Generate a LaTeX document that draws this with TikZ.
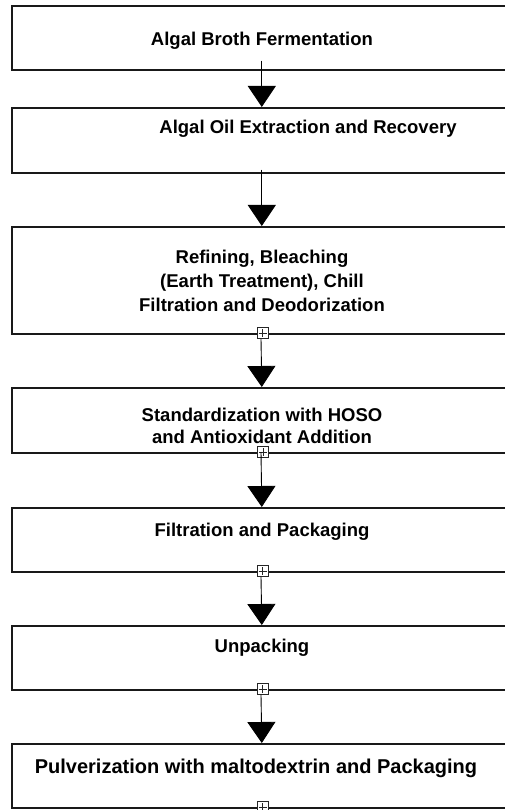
\documentclass[tikz,border=0pt]{standalone}
\usepackage{fontspec}
\setmainfont{Liberation Sans}
\usetikzlibrary{arrows.meta}
\begin{document}
\begin{tikzpicture}[x=1pt,y=-1pt,
  box/.style={draw=black!90, line width=1.6pt, minimum width=502pt, inner sep=0pt, anchor=north west},
  txt/.style={font=\fontsize{18.5}{24}\selectfont\bfseries, align=center, inner sep=0pt, anchor=base},
  conn/.style={draw=black, line width=0.9pt, -{Triangle[width=28pt,length=21pt]}},
  sq/.style={draw=black!85, fill=white, line width=0.6pt, minimum size=11pt, inner sep=0pt,
    path picture={\draw[line width=0.6pt] ([yshift=4pt]path picture bounding box.center) -- ([yshift=-4pt]path picture bounding box.center);
      \draw[line width=0.6pt] ([xshift=-4pt]path picture bounding box.center) -- ([xshift=4pt]path picture bounding box.center);}}
]
\useasboundingbox (0,0) rectangle (504,810);
\fill[white] (0,0) rectangle (504,810);
% boxes
\node[box, minimum height=64pt]  (b1) at (11,5) {};
\node[box, minimum height=65pt]  (b2) at (11,107) {};
\node[box, minimum height=107pt] (b3) at (11,226) {};
\node[box, minimum height=65pt]  (b4) at (11,387) {};
\node[box, minimum height=64pt]  (b5) at (11,507) {};
\node[box, minimum height=64pt]  (b6) at (11,625) {};
\node[box, minimum height=64pt]  (b7) at (11,743) {};
% texts
\node[txt] (t1) at (262,46) {Algal Broth Fermentation};
\node[txt] (t2) at (308,134) {Algal Oil Extraction and Recovery};
\node[txt] (t3) at (262,311) {Refining, Bleaching\\(Earth Treatment), Chill\\Filtration and Deodorization};
\node[txt, font=\fontsize{18.5}{22}\selectfont\bfseries] (t4) at (262,443) {Standardization with HOSO\\and Antioxidant Addition};
\node[txt] (t5) at (262,536) {Filtration and Packaging};
\node[txt] (t6) at (262,652) {Unpacking};
\node[txt, font=\fontsize{20}{24}\selectfont\bfseries] (t7) at (256,773) {Pulverization with maltodextrin and Packaging};
% small squares
\node[sq] (s3) at (262.5,333) {};
\node[sq] (s4) at (263,452) {};
\node[sq] (s5) at (262.5,571) {};
\node[sq] (s6) at (262.5,689) {};
\node[sq] (s7) at (262.5,807) {};
% connectors
\draw[conn] ([xshift=-1pt,yshift=10pt]b1.south) -- ([xshift=-1pt]b2.north);
\draw[conn] ([xshift=-1pt,yshift=4pt]b2.south) -- ([xshift=-1pt]b3.north);
\draw[conn] ([xshift=-1.5pt]s3.south) -- ([xshift=-1pt]b4.north);
\draw[conn] ([xshift=-2pt]s4.center) -- ([xshift=-1pt]b5.north);
\draw[conn] ([xshift=-1.5pt]s5.south) -- ([xshift=-1pt]b6.north);
\draw[conn] ([xshift=-1.5pt]s6.south) -- ([xshift=-1pt]b7.north);
\end{tikzpicture}
\end{document}
